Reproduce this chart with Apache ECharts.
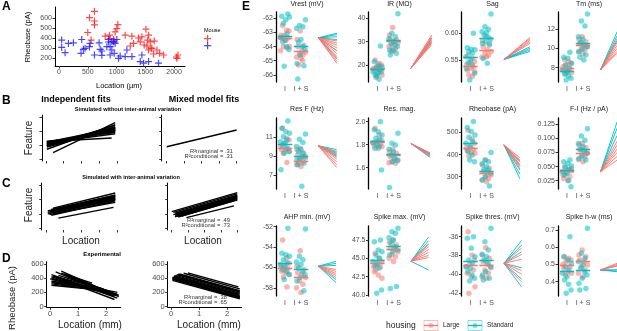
<!DOCTYPE html>
<html>
<head>
<meta charset="utf-8">
<script src="https://cdn.jsdelivr.net/npm/echarts@6/dist/echarts.min.js"></script>
<style>
  html, body { margin: 0; padding: 0; background: #fff; }
  #chart { width: 617px; height: 331px; }
</style>
</head>
<body>
<div id="chart"></div>
<script>
// ---------- data ----------
// A: rheobase vs location, two mice  [location µm, rheobase pA]
const mouseRed = [[616,666],[529,603],[616,570],[616,531],[500,455],[558,379],[877,428],[802,418],[889,395],
  [1023,534],[1005,494],[976,461],[947,386],[960,370],[1150,428],[1267,418],[1296,346],[1238,320],[1441,412],
  [1511,488],[1412,362],[1557,428],[1540,379],[1528,320],[1586,362],[1656,369],[1615,296],[1557,280],
  [1702,280],[1749,247],[1819,230],[2068,230],[2051,197],[2040,210],[1644,240],[1480,330],[1380,400],[1600,300]]
const mouseBlue = [[46,379],[46,306],[105,253],[163,346],[250,352],[395,385],[383,247],[424,287],[453,297],
  [529,313],[540,346],[616,230],[697,352],[715,287],[744,270],[744,227],[860,385],[889,313],[918,280],
  [947,362],[976,346],[959,247],[889,230],[1063,220],[1034,197],[1150,214],[1180,280],[1267,214],
  [1412,164],[1441,230],[1470,148],[1557,164],[1730,148],[831,313],[1005,385],[918,362],[860,360]]

// B-D: fitted lines [x0, y0, x1, y1]
const bIndep = [[0.05,1.25,3.9,1.9],[0.05,1.2,3.9,2.0],[0.05,1.15,3.9,2.05],[0.05,1.1,3.9,2.1],[0.05,1.05,3.9,2.15],
  [0.05,1.0,3.9,2.2],[0.05,0.95,3.9,2.25],[0.05,0.9,3.9,2.3],[0.05,1.2,3.9,2.2],[0.05,1.1,3.9,1.95],
  [0.05,1.0,3.9,2.05],[0.05,0.95,3.9,2.4],[0.05,1.15,3.9,1.8],[0.05,0.85,3.9,2.15],[0.05,0.7,3.9,2.45],
  [0.4,0.45,3.9,2.6],[0.05,1.25,3.7,1.5]]
const bMixed = [[0.0,0.88,4.0,2.07]]
const cIndep = [[0.1,1.0,3.9,2.0],[0.1,1.1,3.9,2.1],[0.2,1.2,3.9,2.2],[0.3,1.3,3.9,2.3],[0.4,1.4,3.9,2.45],
  [0.2,1.05,3.9,1.95],[0.3,1.15,3.9,2.05],[0.5,1.25,3.9,2.15],[0.2,0.95,3.8,1.85],[0.4,1.0,3.9,1.8],
  [0.6,1.35,3.9,2.3],[0.3,0.9,3.9,1.9],[0.1,1.2,3.9,2.25],[0.5,1.1,3.9,2.0],[0.7,0.7,3.8,1.45]]
const cMixed = [[0.0,1.15,4.0,2.47],[0.1,1.1,4.0,2.39],[0.2,1.05,4.0,2.30],[0.3,1.0,4.0,2.22],[0.1,0.95,4.0,2.24],
  [0.2,0.9,4.0,2.15],[0.4,0.95,4.0,2.14],[0.3,0.85,4.0,2.07],[0.5,0.9,4.0,2.06],[0.2,0.8,4.0,2.05],
  [0.6,0.85,4.0,1.97],[0.4,0.78,4.0,1.97],[0.9,0.74,3.8,1.55]]
const dIndep = [[0.4,500,2.45,140],[0.2,490,2.3,145],[0.05,450,2.4,120],[0.05,420,2.45,160],[0.05,400,2.2,170],
  [0.1,380,2.0,190],[0.05,360,1.9,210],[0.05,340,2.1,200],[0.05,320,1.8,230],[0.05,300,1.6,240],
  [0.3,440,2.0,230],[0.5,460,1.5,330],[0.2,410,2.3,100],[0.1,430,1.9,250],[0.3,380,1.7,260],
  [0.6,430,2.4,170],[0.0,390,2.4,200],[0.1,350,1.5,270],[0.4,470,2.2,190],[0.8,420,2.3,150]]
const dMixed = [[0.05,370,2.45,110],[0.05,385,2.45,125],[0.05,400,2.45,140],[0.05,415,2.45,155],[0.1,430,2.45,172],
  [0.15,440,2.45,188],[0.2,450,2.45,203],[0.3,460,2.45,224],[0.45,470,2.45,250],[0.6,475,2.4,277],
  [0.05,395,2.45,135],[0.1,420,2.4,168],[0.25,455,2.45,213]]
const r2Labels = [['.31', '.31'], ['.49', '.73'], ['.38', '.65']]

// E: [I values, I + S values] per housing
const vrestLarge = [[-62.5,-62.85,-62.9,-63.2,-63.2,-63.4,-63.4,-63.55,-64.0,-64.0,-64.1,-64.3],
  [-62.9,-63.5,-63.9,-64.0,-64.3,-64.4,-64.5,-64.6,-64.75,-64.85,-65.3,-65.0]]
const vrestStd = [[-61.7,-61.85,-62.1,-61.9,-62.35,-63.1,-63.35,-63.55,-63.65,-64.0,-64.2,-65.4],
  [-62.1,-62.5,-62.6,-62.7,-63.5,-63.7,-64.0,-64.2,-64.6,-65.2,-65.35,-66.3]]
const irLarge = [[22.1,20.7,20.0,19.3,18.6,17.9,17.6,16.7,15.7,14.7,19.3],
  [36.1,32.9,30.7,31.0,30.0,29.6,28.6,27.1,27.9,26.1,25.7]]
const irStd = [[28.1,21.4,20.0,19.3,18.6,17.9,17.1,16.4,15.7,13.9,17.1,15.3],
  [41.9,33.6,32.1,31.4,30.0,29.3,28.6,27.9,26.4,26.4,25.0,24.3]]
const sagLarge = [[0.559,0.553,0.547,0.544,0.541,0.5375,0.531,0.534,0.528,0.522,0.519],
  [0.594,0.586,0.581,0.575,0.569,0.566,0.5625,0.559,0.555,0.556]]
const sagStd = [[0.600,0.573,0.570,0.569,0.566,0.5625,0.556,0.551,0.545,0.541,0.525,0.5125,0.534],
  [0.636,0.6125,0.6075,0.603,0.601,0.597,0.5925,0.589,0.584,0.581,0.578,0.553,0.544]]
const tmLarge = [[8.86,8.62,8.45,8.28,8.1,7.93,7.76,7.59,7.48,7.34],
  [11.2,10.93,10.69,10.52,10.34,10.17,10.0,9.83,9.66,9.41]]
const tmStd = [[9.59,9.07,8.97,8.45,8.28,7.93,7.76,7.59,7.34,7.14,6.9,6.72],
  [13.55,12.83,12.3,11.2,10.93,10.6,10.35,10.17,9.9,9.66,9.31,9.07,8.8]]
const resFLarge = [[11.95,10.9,10.72,10.37,10.02,9.84,9.67,9.67,9.49,9.32,8.33],
  [9.84,9.67,9.32,9.14,8.96,8.79,8.61,8.44,8.09,7.91,8.26]]
const resFStd = [[12.72,11.95,11.6,11.42,11.07,10.72,10.54,10.37,10.19,9.84,9.49,9.32,7.56],
  [11.35,10.79,10.44,10.02,9.74,9.49,9.32,8.96,8.79,8.61,8.26,8.09,5.81]]
const resMagLarge = [[1.942,1.884,1.84,1.826,1.812,1.806,1.788,1.768,1.783],
  [1.76,1.739,1.725,1.696,1.681,1.667,1.652,1.638,1.643]]
const resMagStd = [[2.0,1.93,1.913,1.884,1.855,1.84,1.817,1.797,1.768,1.783,1.58],
  [1.9,1.812,1.797,1.76,1.739,1.71,1.681,1.661,1.652,1.429]]
const rheoLarge = [[509,470,452,436,429,424,418,409,406,394],
  [376,353,338,323,318,308,300,292,285,277]]
const rheoStd = [[550,523,505,489,479,459,452,436,414,398,368,376],
  [409,376,368,358,345,333,330,315,300,285,258]]
const fiLarge = [[0.0497,0.0438,0.0426,0.0391,0.035,0.032,0.0291,0.026,0.0468],
  [0.0909,0.088,0.0838,0.0803,0.0779,0.0744,0.0703,0.0674,0.0626,0.0585]]
const fiStd = [[0.0615,0.0585,0.0556,0.0509,0.0485,0.045,0.0409,0.038,0.035,0.025,0.0144],
  [0.117,0.104,0.0968,0.0909,0.085,0.0803,0.0762,0.0732,0.0685,0.0644,0.0615]]
const ahpLarge = [[-53.3,-55.07,-55.56,-55.88,-55.88,-56.1,-56.37,-56.53,-56.7,-56.95,-57.92],
  [-54.36,-55.88,-56.2,-56.53,-56.7,-57.0,-57.34,-57.66,-57.99,-58.47]]
const ahpStd = [[-52.16,-54.6,-54.75,-54.9,-55.24,-55.56,-55.72,-55.98,-56.2,-56.37,-56.7,-57.18],
  [-52.23,-54.9,-55.24,-55.46,-55.72,-56.05,-56.37,-56.7,-57.0,-57.34,-58.3]]
const spkMaxLarge = [[45.68,45.0,44.55,44.18,43.86,43.86,43.18,42.73,42.27,43.41],
  [47.5,47.18,46.82,46.36,46.27,45.9,45.55,45.23,45.0,44.55]]
const spkMaxStd = [[47.5,47.27,46.14,45.9,45.45,45.0,44.55,44.3,44.0,43.64,40.68,40.23],
  [49.1,48.64,48.41,47.82,47.5,47.05,46.59,46.14,45.9,45.45,41.14,40.9]]
const spkThrLarge = [[-35.47,-37.94,-38.47,-38.93,-39.18,-39.53,-39.89,-40.24,-41.3,-42.0],
  [-37.17,-37.94,-38.3,-38.65,-38.93,-39.29,-39.53,-39.89,-40.24,-40.42]]
const spkThrStd = [[-36.0,-36.18,-37.24,-38.12,-38.47,-38.83,-39.18,-39.36,-39.71,-40.06,-40.42,-40.7],
  [-35.12,-36.53,-37.41,-37.87,-38.12,-38.47,-38.83,-39.18,-39.71,-40.06,-40.42,-40.6]]
const hwLarge = [[0.545,0.536,0.526,0.516,0.501,0.487,0.478,0.458,0.449,0.439],
  [0.584,0.555,0.545,0.526,0.516,0.497,0.487,0.468,0.449,0.429]]
const hwStd = [[0.661,0.545,0.526,0.507,0.487,0.468,0.449,0.429,0.41,0.385,0.352,0.333],
  [0.71,0.565,0.536,0.516,0.497,0.478,0.458,0.439,0.42,0.391,0.361,0.352]]

const eTitles = ['Vrest (mV)', 'IR (MΩ)', 'Sag', 'Tm (ms)', 'Res F (Hz)', 'Res. mag.', 'Rheobase (pA)',
  'F-I (Hz / pA)', 'AHP min. (mV)', 'Spike max. (mV)', 'Spike thres. (mV)', 'Spike h-w (ms)']
const eTicks = [[-66,-65,-64,-63,-62], [20,30,40], [0.55,0.60], [8,10,12], [7,9,11], [1.6,1.8,2.0],
  [300,400,500], [0.025,0.05,0.075,0.1,0.125], [-58,-56,-54,-52], [40,42.5,45,47.5], [-42,-40,-38,-36],
  [0.4,0.5,0.6,0.7]]
const eDecimals = [0, 0, 2, 0, 0, 1, 0, 3, 0, 1, 0, 1]
const eLarge = [vrestLarge, irLarge, sagLarge, tmLarge, resFLarge, resMagLarge, rheoLarge, fiLarge,
  ahpLarge, spkMaxLarge, spkThrLarge, hwLarge]
const eStd = [vrestStd, irStd, sagStd, tmStd, resFStd, resMagStd, rheoStd, fiStd,
  ahpStd, spkMaxStd, spkThrStd, hwStd]
// group means [I, I + S]
const eMeanLarge = [[-63.42,-64.36],[18.6,30.3],[0.5375,0.5675],[7.93,10.35],[9.8,8.5],[1.822,1.71],
  [429,315],[0.0409,0.0744],[-56.1,-56.92],[44.32,46.27],[-39.0,-39.0],[0.497,0.516]]
const eMeanStd = [[-63.25,-64.0],[18.3,30.4],[0.556,0.5906],[7.65,10.52],[10.25,8.95],[1.83,1.716],
  [452,326],[0.0438,0.0803],[-55.56,-56.2],[44.77,46.59],[-38.58,-38.47],[0.458,0.468]]
// per-animal slope fans: common start, end values per housing
const eFanStart = [-63.38, 18.6, 0.551, 7.76, 10.1, 1.81, 444, 0.0409, -55.88, 44.6, -38.83, 0.468]
const eFanLarge = [[-63.6,-63.75,-63.9,-64.1,-64.3,-64.5,-64.7,-64.9,-65.05,-65.2],
  [28.6,29.2,29.8,30.4,31.0,31.6,32.2,32.8], [0.581,0.584,0.587,0.590,0.592],
  [11.0,10.6,10.3,10.0,9.7,9.5], [9.4,9.2,9.0,8.7,8.4,8.1,7.8], [1.70,1.71,1.72,1.73],
  [385,375,365,355,345,335], [0.095,0.088,0.081,0.075,0.068,0.0615], [-56.2,-56.4,-56.6,-56.8,-57.0],
  [47.0,46.6,46.2,45.8,45.4,45.1], [-37.2,-37.9,-38.4,-39.6,-40.0,-40.8], [0.49,0.50,0.507,0.495]]
const eFanStd = [[-63.05,-63.15,-63.3,-63.5,-64.3,-64.8], [29.5,30.5,31.5], [0.566,0.569,0.572,0.575],
  [11.7,11.3,10.8], [9.7,9.5,9.3,9.1,8.9], [1.69,1.70,1.715,1.725], [370,350,330,310,290],
  [0.129,0.118,0.105], [-55.4,-55.6,-55.8,-57.2,-57.5], [47.9,47.4,46.9,43.4],
  [-36.4,-36.9,-37.6,-39.3,-40.5,-41.3], [0.458,0.462,0.47]]

// ---------- layout ----------
const FONT = '"Liberation Sans", Arial, sans-serif'
const GRAY = '#4d4d4d'
const C_LARGE = '#F8766D'
const C_STD = '#00BFC4'
const jitter = [-0.15, 0.1, 0.25, -0.05, -0.25, 0.18, -0.2, 0.05, 0.28, -0.1, 0.12, -0.28, 0.0]
const eColLeft = [276, 368.5, 461.5, 558]
const eRowTop = [12, 118, 226]
const eRowH = [70, 71, 70]
const eRanges = [[-66.51,-61.55],[12.72,42.7],[0.5088,0.6399],[6.52,13.76],[5.515,13.05],[1.415,2.032],
  [244,566],[0.0103,0.136],[-58.81,-51.93],[39.86,49.41],[-42.29,-34.87],[0.317,0.723]]
const eFanX0 = 3.09
const eFanX1 = [4.25, 4.38, 4.72, 4.13, 4.23, 4.28, 4.09, 4.13, 4.19, 4.19, 4.19, 4.13]

const grids = [], xAxes = [], yAxes = [], series = [], graphics = []

function valAxis(gi, min, max, o) {
  o = o || {}
  return {
    type: 'value', gridIndex: gi, min: min, max: max,
    splitLine: { show: false },
    axisLine: { show: o.line !== false, onZero: false, lineStyle: { color: '#000', width: o.lw || 1 } },
    axisTick: { show: !!o.ticks, customValues: o.ticks || [], length: o.tickLen || 2.5,
      lineStyle: { color: '#333', width: 1 } },
    axisLabel: { show: !!o.labels, customValues: o.ticks || [], fontSize: o.fs || 7, color: GRAY,
      margin: o.margin || 3, fontFamily: FONT, formatter: o.fmt || (v => String(v)) }
  }
}

function addGrid(left, top, width, height, xa, ya) {
  const gi = grids.length
  grids.push({ left: left, top: top, width: width, height: height, containLabel: false, outerBoundsMode: 'none' })
  xAxes.push(valAxis(gi, xa[0], xa[1], xa[2]))
  yAxes.push(valAxis(gi, ya[0], ya[1], ya[2]))
  return gi
}

function fitLines(gi, segs, width) {
  series.push({
    type: 'lines', coordinateSystem: 'cartesian2d', xAxisIndex: gi, yAxisIndex: gi,
    silent: true, polyline: false, clip: true, z: 3,
    lineStyle: { color: '#000', width: width || 1.3, opacity: 1 },
    data: segs.map(s => ({ coords: [[s[0], s[1]], [s[2], s[3]]] }))
  })
}

function text(str, x, y, o) {
  o = o || {}
  graphics.push({
    type: 'text', x: x, y: y, rotation: o.rot || 0, silent: true, z: 100,
    style: { text: str, fill: o.color || '#000', font: (o.bold ? 'bold ' : '') + (o.size || 7) + 'px ' + FONT,
      textAlign: o.align || 'center', textVerticalAlign: 'middle' }
  })
}

function plusMark(x, y, color) {
  graphics.push({ type: 'polygon', x: x, y: y, silent: true,
    shape: { points: [[3,0],[4.2,0],[4.2,3],[7.2,3],[7.2,4.2],[4.2,4.2],[4.2,7.2],[3,7.2],[3,4.2],[0,4.2],[0,3],[3,3]] },
    style: { fill: color, opacity: 0.8 } })
}

// ---------- panel A ----------
const plus = 'path://M3,0H4.2V3H7.2V4.2H4.2V7.2H3V4.2H0V3H3Z'
const gA = addGrid(55, 7, 130, 59,
  [-70, 2190, { ticks: [0, 500, 1000, 1500, 2000], labels: true }],
  [120, 710, { ticks: [200, 300, 400, 500, 600], labels: true }])
series.push({ type: 'scatter', xAxisIndex: gA, yAxisIndex: gA, symbol: plus, symbolSize: 7, silent: true,
  itemStyle: { color: '#ff1a1a', opacity: 0.8 }, data: mouseRed })
series.push({ type: 'scatter', xAxisIndex: gA, yAxisIndex: gA, symbol: plus, symbolSize: 7, silent: true,
  itemStyle: { color: '#1a1aff', opacity: 0.8 }, data: mouseBlue })
text('A', 2, 7, { bold: true, size: 12, align: 'left' })
text('Rheobase (pA)', 28, 37, { rot: Math.PI / 2, size: 7.5 })
text('Location (µm)', 119, 86, { size: 7.5 })
text('Mouse', 204, 30, { size: 5.5, align: 'left' })
plusMark(204, 35, '#ff1a1a')
plusMark(204, 42, '#1a1aff')

// ---------- panels B, C ----------
const simTicksX = [0, 1, 2, 3, 4], simTicksY = [0, 1, 2, 3]
const gBL = addGrid(42, 115, 78, 46,
  [-0.225, 4.17, { ticks: simTicksX, line: false }], [-0.14, 3.14, { ticks: simTicksY }])
const gBR = addGrid(161.7, 115, 78.3, 46,
  [-0.286, 4.19, { ticks: simTicksX, line: false }], [-0.14, 3.14, { ticks: simTicksY }])
fitLines(gBL, bIndep, 1.4)
fitLines(gBR, bMixed, 1.4)
const gCL = addGrid(41.7, 183, 78, 47,
  [-0.24, 4.15, { ticks: simTicksX, line: false }], [-0.12, 3.14, { ticks: simTicksY }])
const gCR = addGrid(167.7, 183, 72, 47,
  [-0.244, 4.15, { ticks: simTicksX, line: false }], [-0.12, 3.14, { ticks: simTicksY }])
fitLines(gCL, cIndep, 1.4)
fitLines(gCR, cMixed, 1.4)

text('B', 2, 101, { bold: true, size: 12, align: 'left' })
text('Independent fits', 76, 100, { bold: true, size: 9 })
text('Mixed model fits', 204, 100, { bold: true, size: 9 })
text('Simulated without inter-animal variation', 128, 109.5, { bold: true, size: 5.6 })
text('Feature', 29, 138, { rot: Math.PI / 2, size: 10, color: '#222' })
text('C', 2, 184, { bold: true, size: 12, align: 'left' })
text('Simulated with inter-animal variation', 131, 177, { bold: true, size: 5.6 })
text('Feature', 29, 205, { rot: Math.PI / 2, size: 10, color: '#222' })
text('Location', 81, 241, { size: 10, color: '#222' })
text('Location', 203, 241, { size: 10, color: '#222' })

// ---------- panel D ----------
const gDL = addGrid(46.7, 261.7, 74, 45.6,
  [-0.12, 2.52, { ticks: [0, 1, 2], labels: true, fs: 7.5 }],
  [-10, 632, { ticks: [0, 200, 400, 600], labels: true, fs: 7.5 }])
const gDR = addGrid(167.7, 261.7, 74, 45.6,
  [-0.12, 2.52, { ticks: [0, 1, 2], labels: true, fs: 7.5 }],
  [-10, 632, { ticks: [0, 200, 400, 600], labels: true, fs: 7.5 }])
fitLines(gDL, dIndep, 1.4)
fitLines(gDR, dMixed, 1.4)
text('D', 2, 259, { bold: true, size: 12, align: 'left' })
text('Experimental', 102, 254, { bold: true, size: 6 })
text('Rheobase (pA)', 12, 298, { rot: Math.PI / 2, size: 9.5, color: '#222' })
text('Location (mm)', 90, 325, { size: 10, color: '#222' })
text('Location (mm)', 209, 325, { size: 10, color: '#222' })

// R² annotations
const r2Pos = [[233, 151], [230, 220], [227, 297]]
r2Pos.forEach((p, k) => {
  text('R²marginal = ' + r2Labels[k][0], p[0], p[1], { size: 5.8, align: 'right', color: '#333' })
  text('R²conditional = ' + r2Labels[k][1], p[0], p[1] + 5.6, { size: 5.8, align: 'right', color: '#333' })
})

// ---------- panel E ----------
for (let k = 0; k < 12; k++) {
  const row = Math.floor(k / 4), col = k % 4
  const left = eColLeft[col], top = eRowTop[row], h = eRowH[row]
  const dec = eDecimals[k]
  const gi = addGrid(left, top, 72, h,
    [0.4375, 4.9375, { ticks: [1, 2], labels: true, line: false, margin: 4,
      fmt: v => (v < 1.5 ? 'I' : 'I + S') }],
    [eRanges[k][0], eRanges[k][1], { ticks: eTicks[k], labels: true, lw: 1.3, fmt: v => v.toFixed(dec) }])
  xAxes[gi].axisTick.show = false

  const groups = [[eLarge[k], C_LARGE, 0], [eStd[k], C_STD, 5]]
  groups.forEach(g => {
    const pts = []
    g[0].forEach((vals, c) => {
      vals.forEach((v, i) => pts.push([c + 1 + jitter[(i + g[2] + c * 3) % jitter.length], v]))
    })
    series.push({ type: 'scatter', xAxisIndex: gi, yAxisIndex: gi, symbolSize: 5.5, silent: true,
      itemStyle: { color: g[1], opacity: 0.55 }, data: pts })
  })

  // slope fans
  const fanData = []
  eFanStd[k].forEach(v => fanData.push({ coords: [[eFanX0, eFanStart[k]], [eFanX1[k], v]], lineStyle: { color: C_STD } }))
  eFanLarge[k].forEach(v => fanData.push({ coords: [[eFanX0, eFanStart[k]], [eFanX1[k], v]], lineStyle: { color: C_LARGE } }))
  series.push({ type: 'lines', coordinateSystem: 'cartesian2d', xAxisIndex: gi, yAxisIndex: gi, silent: true,
    clip: true, z: 3, lineStyle: { width: 1, opacity: 0.9 }, data: fanData })

  // group means
  const meanData = []
  ;[[eMeanLarge[k], C_LARGE], [eMeanStd[k], C_STD]].forEach(m => {
    m[0].forEach((v, c) => meanData.push({ coords: [[c + 0.55, v], [c + 1.45, v]], lineStyle: { color: m[1] } }))
  })
  series.push({ type: 'lines', coordinateSystem: 'cartesian2d', xAxisIndex: gi, yAxisIndex: gi, silent: true,
    clip: true, z: 4, lineStyle: { width: 1.3, opacity: 1 }, data: meanData })

  text(eTitles[k], left + 31, [4, 109.5, 217.5][row], { size: 7, color: '#222' })
}
text('E', 242, 7, { bold: true, size: 12, align: 'left' })

// legend
text('housing', 386, 325.5, { size: 8.5, align: 'left', color: '#222' })
;[[424, 'Large', C_LARGE], [468, 'Standard', C_STD]].forEach(l => {
  graphics.push({ type: 'rect', silent: true, shape: { x: l[0], y: 320.5, width: 14, height: 10 },
    style: { fill: 'none', stroke: l[2], lineWidth: 0.8, opacity: 0.6 } })
  graphics.push({ type: 'line', silent: true, shape: { x1: l[0], y1: 325.5, x2: l[0] + 14, y2: 325.5 },
    style: { stroke: l[2], lineWidth: 1.2 } })
  graphics.push({ type: 'circle', silent: true, shape: { cx: l[0] + 7, cy: 325.5, r: 2.5 },
    style: { fill: l[2], opacity: 0.5 } })
  text(l[1], l[0] + 19, 325.5, { size: 6.5, align: 'left', color: '#222' })
})

// ---------- chart ----------
const myChart = echarts.init(document.getElementById('chart'), null, { renderer: 'canvas' })
myChart.setOption({
  animation: false,
  backgroundColor: '#fff',
  grid: grids,
  xAxis: xAxes,
  yAxis: yAxes,
  series: series,
  graphic: graphics
})
</script>
</body>
</html>
